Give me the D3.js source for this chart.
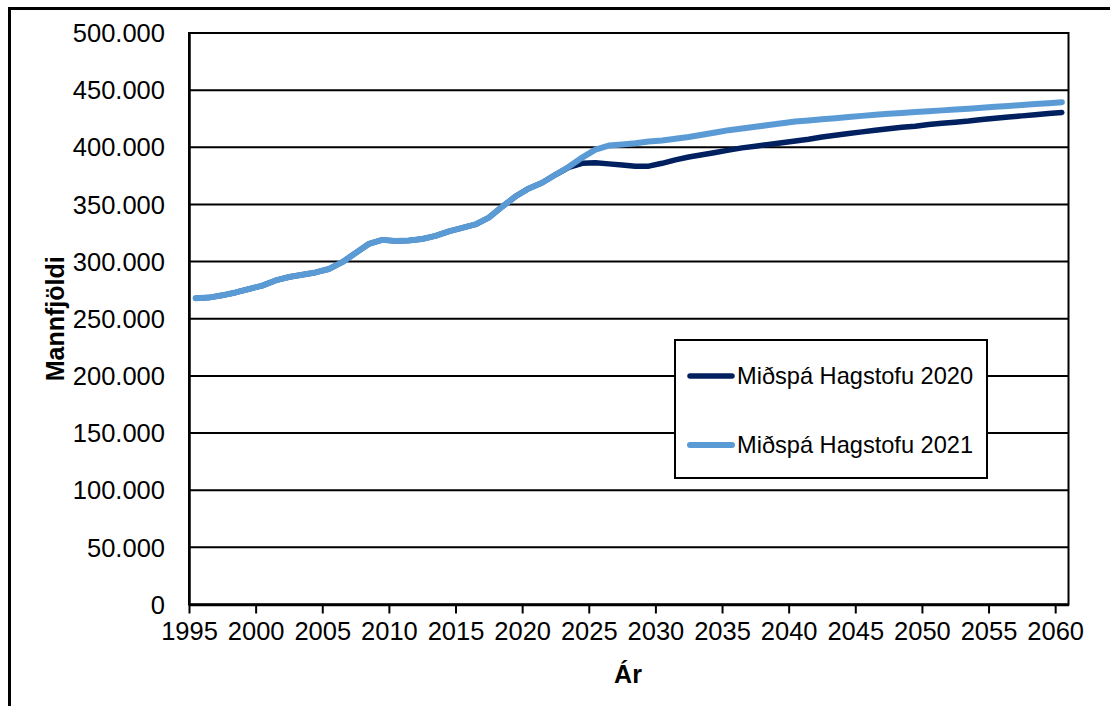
<!DOCTYPE html>
<html>
<head>
<meta charset="utf-8">
<script src="https://d3js.org/d3.v7.min.js"></script>
<style>
  body { margin: 0; background: #fff; }
  svg text { font-family: "Liberation Sans", Arial, sans-serif; fill: #000; }
</style>
</head>
<body>
<div id="chart"></div>
<script>
// data (population, 1 Jan)
var years = d3.range(1995, 2061);

var spa2020 = [
  268000, 268500, 270500, 273000, 276000, 279000, 283500, 286500, 288500, 290500,
  293500, 299500, 307500, 315500, 319000, 318000, 318500, 319800, 322500, 326500,
  329500, 332500, 338500, 348000, 357000, 364000, 369000, 376000, 382500, 386000,
  386500, 385500, 384500, 383500, 383500, 386000, 389000, 391500, 393500, 395500,
  397500, 399500, 401000, 402500, 404000, 405500, 407000, 409000, 410500, 412000,
  413500, 415000, 416300, 417500, 418500, 420000, 421000, 422000, 423000, 424300,
  425500, 426500, 427500, 428500, 429500, 430500
];

var spa2021 = [
  268000, 268500, 270500, 273000, 276000, 279000, 283500, 286500, 288500, 290500,
  293500, 299500, 307500, 315500, 319000, 318000, 318500, 319800, 322500, 326500,
  329500, 332500, 338500, 348000, 357000, 364000, 369000, 376000, 383000, 391000,
  398000, 401500, 402500, 403500, 405000, 406000, 407500, 409000, 411000, 413000,
  415000, 416500, 418000, 419500, 421000, 422500, 423500, 424500, 425500, 426500,
  427500, 428500, 429300, 430000, 430800, 431500, 432300, 433000, 433800, 434600,
  435400, 436200, 437000, 437800, 438600, 439500
];

var seriesNames = ["Miðspá Hagstofu 2020", "Miðspá Hagstofu 2021"];
var seriesColors = ["#002060", "#5b9bd5"];
var xTicks = d3.range(1995, 2061, 5);
var yTicks = d3.range(0, 500001, 50000);

// set the dimensions and margins of the graph
var margin = {top: 33, right: 41.5, bottom: 101.5, left: 189},
    width = 1110 - margin.left - margin.right,
    height = 706 - margin.top - margin.bottom;

var root = d3.select("#chart")
    .append("svg")
    .attr("width", 1110)
    .attr("height", 706);

// outer frame (only top and left edges are visible)
root.append("path")
    .attr("d", "M9.5,706 V8.5 H1110")
    .attr("fill", "none")
    .attr("stroke", "#000")
    .attr("stroke-width", 3);

var svg = root.append("g")
    .attr("transform", "translate(" + margin.left + "," + margin.top + ")");

var isl = d3.formatLocale({decimal: ",", thousands: ".", grouping: [3], currency: ["", " kr."]});

var x = d3.scaleLinear()
    .domain([1995, 2061])
    .range([0, width]);

var y = d3.scaleLinear()
    .domain([0, 500000])
    .range([height, 0]);

// gridlines
svg.append("g")
    .selectAll("line")
    .data(yTicks)
    .enter()
    .append("line")
    .attr("x1", 0)
    .attr("x2", width)
    .attr("y1", function(d) { return y(d); })
    .attr("y2", function(d) { return y(d); })
    .attr("stroke", "#000")
    .attr("stroke-width", 2);

// plot area border
svg.append("rect")
    .attr("width", width)
    .attr("height", height)
    .attr("fill", "none")
    .attr("stroke", "#000")
    .attr("stroke-width", 2);

// Y axis
var yAxis = svg.append("g")
    .call(d3.axisLeft(y).tickValues(yTicks).tickSize(0).tickPadding(24)
        .tickFormat(function(d) { return isl.format(",d")(d); }));
yAxis.select(".domain").attr("stroke", "#000").attr("stroke-width", 2.5);
yAxis.selectAll("text")
    .style("font-size", "25.5px")
    .attr("dy", "0.34em");

// X axis
var xAxis = svg.append("g")
    .attr("transform", "translate(0," + height + ")")
    .call(d3.axisBottom(x).tickValues(xTicks).tickSize(9).tickSizeOuter(0).tickPadding(8)
        .tickFormat(d3.format("d")));
xAxis.select(".domain").attr("stroke", "#000").attr("stroke-width", 2.5);
xAxis.selectAll(".tick line").attr("stroke", "#000").attr("stroke-width", 2);
xAxis.selectAll("text")
    .style("font-size", "25.5px");

// axis titles
svg.append("text")
    .attr("x", 439)
    .attr("y", height + 78)
    .attr("text-anchor", "middle")
    .style("font-size", "25px")
    .style("font-weight", "bold")
    .text("Ár");

svg.append("text")
    .attr("transform", "translate(" + (-125) + "," + (height / 2) + ")rotate(-90)")
    .attr("text-anchor", "middle")
    .style("font-size", "25px")
    .style("font-weight", "bold")
    .text("Mannfjöldi");

// lines (points sit in the middle of each year slot)
var line = d3.line()
    .x(function(d, i) { return x(years[i] + 0.5); })
    .y(function(d) { return y(d); });

var widths = [5.5, 6];
[spa2020, spa2021].forEach(function(s, k) {
    svg.append("path")
        .datum(s)
        .attr("fill", "none")
        .attr("stroke", seriesColors[k])
        .attr("stroke-width", widths[k])
        .attr("stroke-linejoin", "round")
        .attr("stroke-linecap", "round")
        .attr("d", line);
});

// legend
var legend = root.append("g")
    .attr("transform", "translate(675,340)");

legend.append("rect")
    .attr("width", 312)
    .attr("height", 138)
    .attr("fill", "#fff")
    .attr("stroke", "#000")
    .attr("stroke-width", 2);

seriesNames.forEach(function(name, k) {
    var ly = 36 + k * 69;
    legend.append("line")
        .attr("x1", 15)
        .attr("x2", 57)
        .attr("y1", ly)
        .attr("y2", ly)
        .attr("stroke", seriesColors[k])
        .attr("stroke-width", widths[k])
        .attr("stroke-linecap", "round");
    legend.append("text")
        .attr("x", 62)
        .attr("y", ly)
        .attr("dy", "0.35em")
        .style("font-size", "23.6px")
        .text(name);
});
</script>
</body>
</html>
